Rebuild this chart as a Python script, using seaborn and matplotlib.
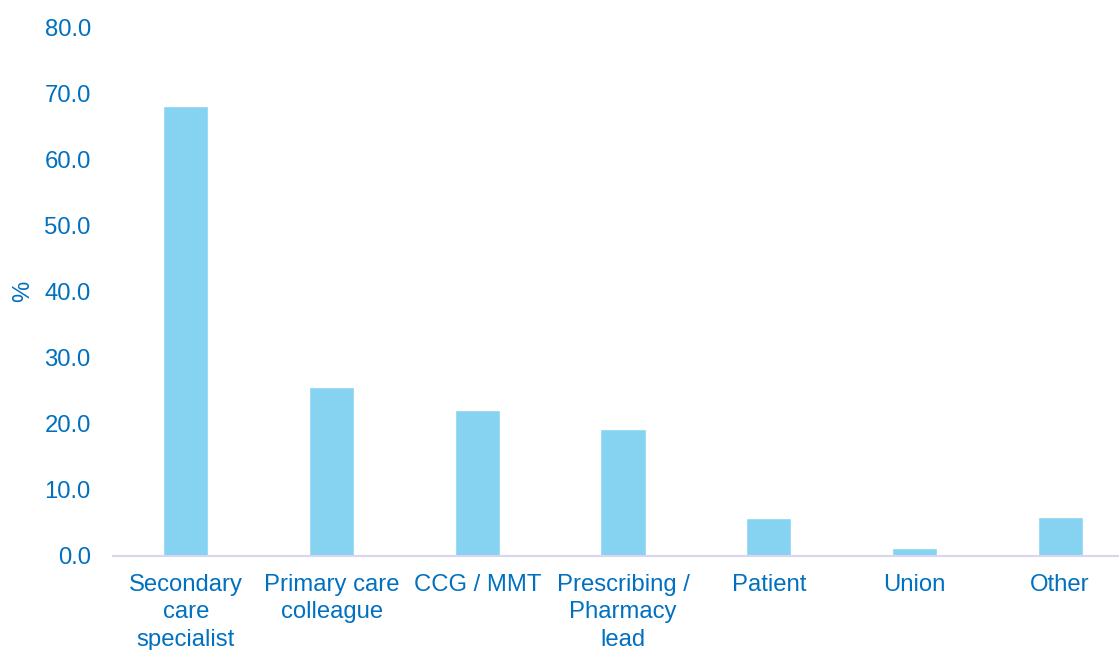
import matplotlib
matplotlib.use("Agg")
import matplotlib.pyplot as plt
import seaborn as sns
import pandas as pd

# data
categories = ["Secondary\ncare\nspecialist", "Primary care\ncolleague", "CCG / MMT",
              "Prescribing /\nPharmacy\nlead", "Patient", "Union", "Other"]
values = [68.0, 25.6, 22.1, 19.2, 5.7, 1.2, 5.9]
y_ticks = [0, 10, 20, 30, 40, 50, 60, 70, 80]

df = pd.DataFrame({"source": categories, "pct": values})

sns.set_style("white")
plt.rcParams['font.family'] = ['Liberation Sans', 'DejaVu Sans']
text_col = "#0070C0"
fs = 17.2

fig = plt.figure(figsize=(11.19, 6.5), dpi=100)
ax = fig.add_axes([113 / 1119, 94 / 650, 1020 / 1119, 529 / 650])

sns.barplot(data=df, x="source", y="pct", color="#85D3F1", width=0.31,
            saturation=1, ax=ax)

ax.set_ylim(0, 80)
ax.set_xlim(-0.5, 6.5)
ax.set_yticks(y_ticks)
ax.set_yticklabels([f"{t:.1f}" for t in y_ticks])
ax.set_xlabel("")
ax.set_ylabel("%", color=text_col, fontsize=fs)
ax.yaxis.set_label_coords(-0.077, 0.5)

ax.tick_params(axis="both", length=0, labelsize=fs, labelcolor=text_col)
ax.tick_params(axis="y", pad=16)
ax.tick_params(axis="x", pad=13)
for lbl in ax.get_xticklabels():
    lbl.set_linespacing(1.32)

for s in ["top", "right", "left"]:
    ax.spines[s].set_visible(False)
ax.spines["bottom"].set_color("#D9D5F0")
ax.spines["bottom"].set_linewidth(1.5)

fig.savefig("out.png", dpi=100)
